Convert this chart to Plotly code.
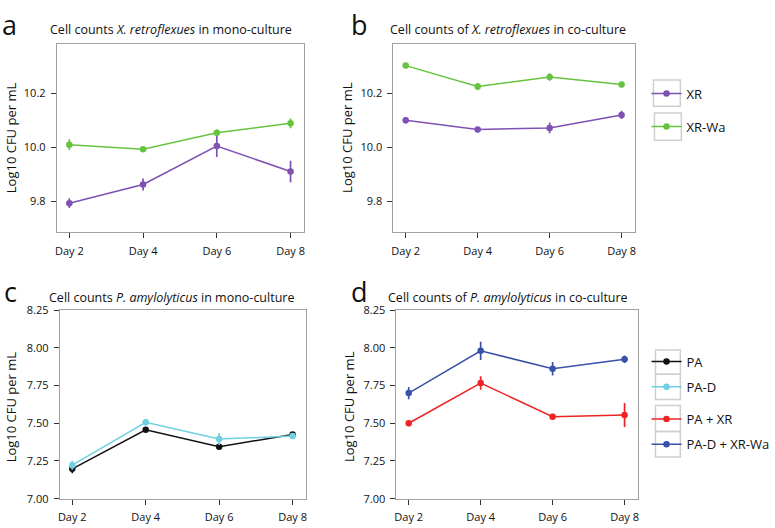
import plotly.graph_objects as go

days = ["Day 2", "Day 4", "Day 6", "Day 8"]

# Panel a: X. retroflexues mono-culture
a_xr = [9.794, 9.863, 10.005, 9.911]
a_xr_err = [0.018, 0.022, 0.04, 0.04]
a_xrwa = [10.010, 9.993, 10.054, 10.089]
a_xrwa_err = [0.02, 0.01, 0.012, 0.018]

# Panel b: X. retroflexues co-culture
b_xr = [10.100, 10.066, 10.072, 10.120]
b_xr_err = [0.012, 0.006, 0.02, 0.015]
b_xrwa = [10.302, 10.225, 10.260, 10.232]
b_xrwa_err = [0.01, 0.014, 0.014, 0.01]

# Panel c: P. amylolyticus mono-culture
c_pa = [7.198, 7.457, 7.345, 7.425]
c_pa_err = [0.03, 0.015, 0.022, 0.012]
c_pad = [7.222, 7.506, 7.395, 7.415]
c_pad_err = [0.03, 0.02, 0.04, 0.01]

# Panel d: P. amylolyticus co-culture
d_paxr = [7.500, 7.767, 7.543, 7.555]
d_paxr_err = [0.02, 0.045, 0.02, 0.08]
d_padxrwa = [7.700, 7.980, 7.862, 7.925]
d_padxrwa_err = [0.04, 0.06, 0.045, 0.025]

PURPLE = "#7e51b2"
GREEN = "#66c33f"
BLACK = "#111111"
CYAN = "#6fd0e2"
RED = "#ee2424"
BLUE = "#3b50a8"

FONT = "Open Sans"
xs = list(range(len(days)))

W, H = 775, 528
def X(p):
    return p / W
def Y(p):
    return 1 - p / H

fig = go.Figure()

def add(xaxis, yaxis, y, err, color, name, legend, show):
    fig.add_trace(go.Scatter(
        x=xs, y=y, mode="lines+markers", name=name,
        xaxis=xaxis, yaxis=yaxis,
        line=dict(color=color, width=1.5),
        marker=dict(color=color, size=6.5),
        error_y=dict(type="data", array=err, color=color, thickness=1.7, width=0),
        legend=legend, showlegend=show,
    ))

add("x", "y", a_xr, a_xr_err, PURPLE, "XR", "legend", True)
add("x", "y", a_xrwa, a_xrwa_err, GREEN, "XR-Wa", "legend2", True)
add("x2", "y2", b_xr, b_xr_err, PURPLE, "XR", "legend", False)
add("x2", "y2", b_xrwa, b_xrwa_err, GREEN, "XR-Wa", "legend2", False)
add("x3", "y3", c_pa, c_pa_err, BLACK, "PA", "legend3", True)
add("x3", "y3", c_pad, c_pad_err, CYAN, "PA-D", "legend4", True)
add("x4", "y4", d_paxr, d_paxr_err, RED, "PA + XR", "legend5", True)
add("x4", "y4", d_padxrwa, d_padxrwa_err, BLUE, "PA-D + XR-Wa", "legend6", True)

axis_common = dict(showline=True, linecolor="#a0a0a0", linewidth=1, mirror=True,
                   showgrid=False, zeroline=False, ticks="outside", ticklen=5,
                   ticklabelstandoff=3,
                   tickcolor="#333333", tickfont=dict(family=FONT, size=11, color="#111"))

xcommon = dict(axis_common, range=[-0.17, 3.18], tickvals=xs, ticktext=days)
ycommon_top = dict(axis_common, range=[9.686, 10.382], tickvals=[9.8, 10.0, 10.2],
                   ticktext=["9.8", "10.0", "10.2"])
ycommon_bot = dict(axis_common, range=[7.0, 8.25], tickvals=[7.0, 7.25, 7.5, 7.75, 8.0, 8.25],
                   ticktext=["7.00", "7.25", "7.50", "7.75", "8.00", "8.25"])

def leg(xp, yp):
    return dict(font=dict(family=FONT, size=13, color="#111"), bgcolor="rgba(0,0,0,0)",
                xanchor="left", yanchor="middle", itemwidth=30, x=X(xp), y=Y(yp))

fig.update_layout(
    width=W, height=H, margin=dict(l=0, r=0, t=0, b=0),
    paper_bgcolor="white", plot_bgcolor="white",
    xaxis=dict(xcommon, domain=[X(55), X(303)], anchor="y"),
    yaxis=dict(ycommon_top, domain=[Y(231), Y(37)], anchor="x"),
    xaxis2=dict(xcommon, domain=[X(393), X(635)], anchor="y2"),
    yaxis2=dict(ycommon_top, domain=[Y(231), Y(37)], anchor="x2"),
    xaxis3=dict(xcommon, domain=[X(58), X(305)], anchor="y3"),
    yaxis3=dict(ycommon_bot, domain=[Y(505), Y(311)], anchor="x3"),
    xaxis4=dict(xcommon, domain=[X(396), X(638)], anchor="y4"),
    yaxis4=dict(ycommon_bot, domain=[Y(505), Y(311)], anchor="x4"),
    legend=leg(647, 88),
    legend2=leg(647, 122),
    legend3=leg(647, 364),
    legend4=leg(647, 390),
    legend5=leg(647, 423),
    legend6=leg(647, 449),
)

# small frames around legend symbols
boxes = [(654, 74, 681, 101), (655, 108, 682, 136),
         (656, 352, 681, 377), (656, 377, 681, 403),
         (656, 409, 681, 436), (656, 436, 681, 462)]
for x0, y0, x1, y1 in boxes:
    fig.add_shape(type="rect", xref="paper", yref="paper",
                  x0=X(x0), x1=X(x1), y0=Y(y1), y1=Y(y0),
                  line=dict(color="#cfcfcf", width=1.5), layer="below")

titles = [
    (170, 22, "Cell counts <i>X. retroflexues</i> in mono-culture"),
    (508, 22, "Cell counts of <i>X. retroflexues</i> in co-culture"),
    (170, 298, "Cell counts <i>P. amylolyticus</i> in mono-culture"),
    (508, 298, "Cell counts of <i>P. amylolyticus</i> in co-culture"),
]
for x, y, t in titles:
    fig.add_annotation(x=X(x), y=Y(y), xref="paper", yref="paper", text=t,
                       showarrow=False, xanchor="center", yanchor="middle",
                       font=dict(family=FONT, size=12.5, color="#111"))

ytitles = [(9, 133), (347, 133), (9, 410), (349, 410)]
for x, y in ytitles:
    fig.add_annotation(x=X(x), y=Y(y), xref="paper", yref="paper", text="Log10 CFU per mL",
                       showarrow=False, xanchor="center", yanchor="middle", textangle=-90,
                       font=dict(family=FONT, size=13, color="#111"))

letters = [(8, 17, "a"), (359, 17, "b"), (9, 292, "c"), (359, 292, "d")]
for x, y, t in letters:
    fig.add_annotation(x=X(x), y=Y(y), xref="paper", yref="paper", text=t,
                       showarrow=False, xanchor="center", yanchor="middle",
                       font=dict(family=FONT, size=27, color="#111"))

fig.write_html("out.html", config={"displayModeBar": False},
               post_script="document.body.style.margin='0';")
